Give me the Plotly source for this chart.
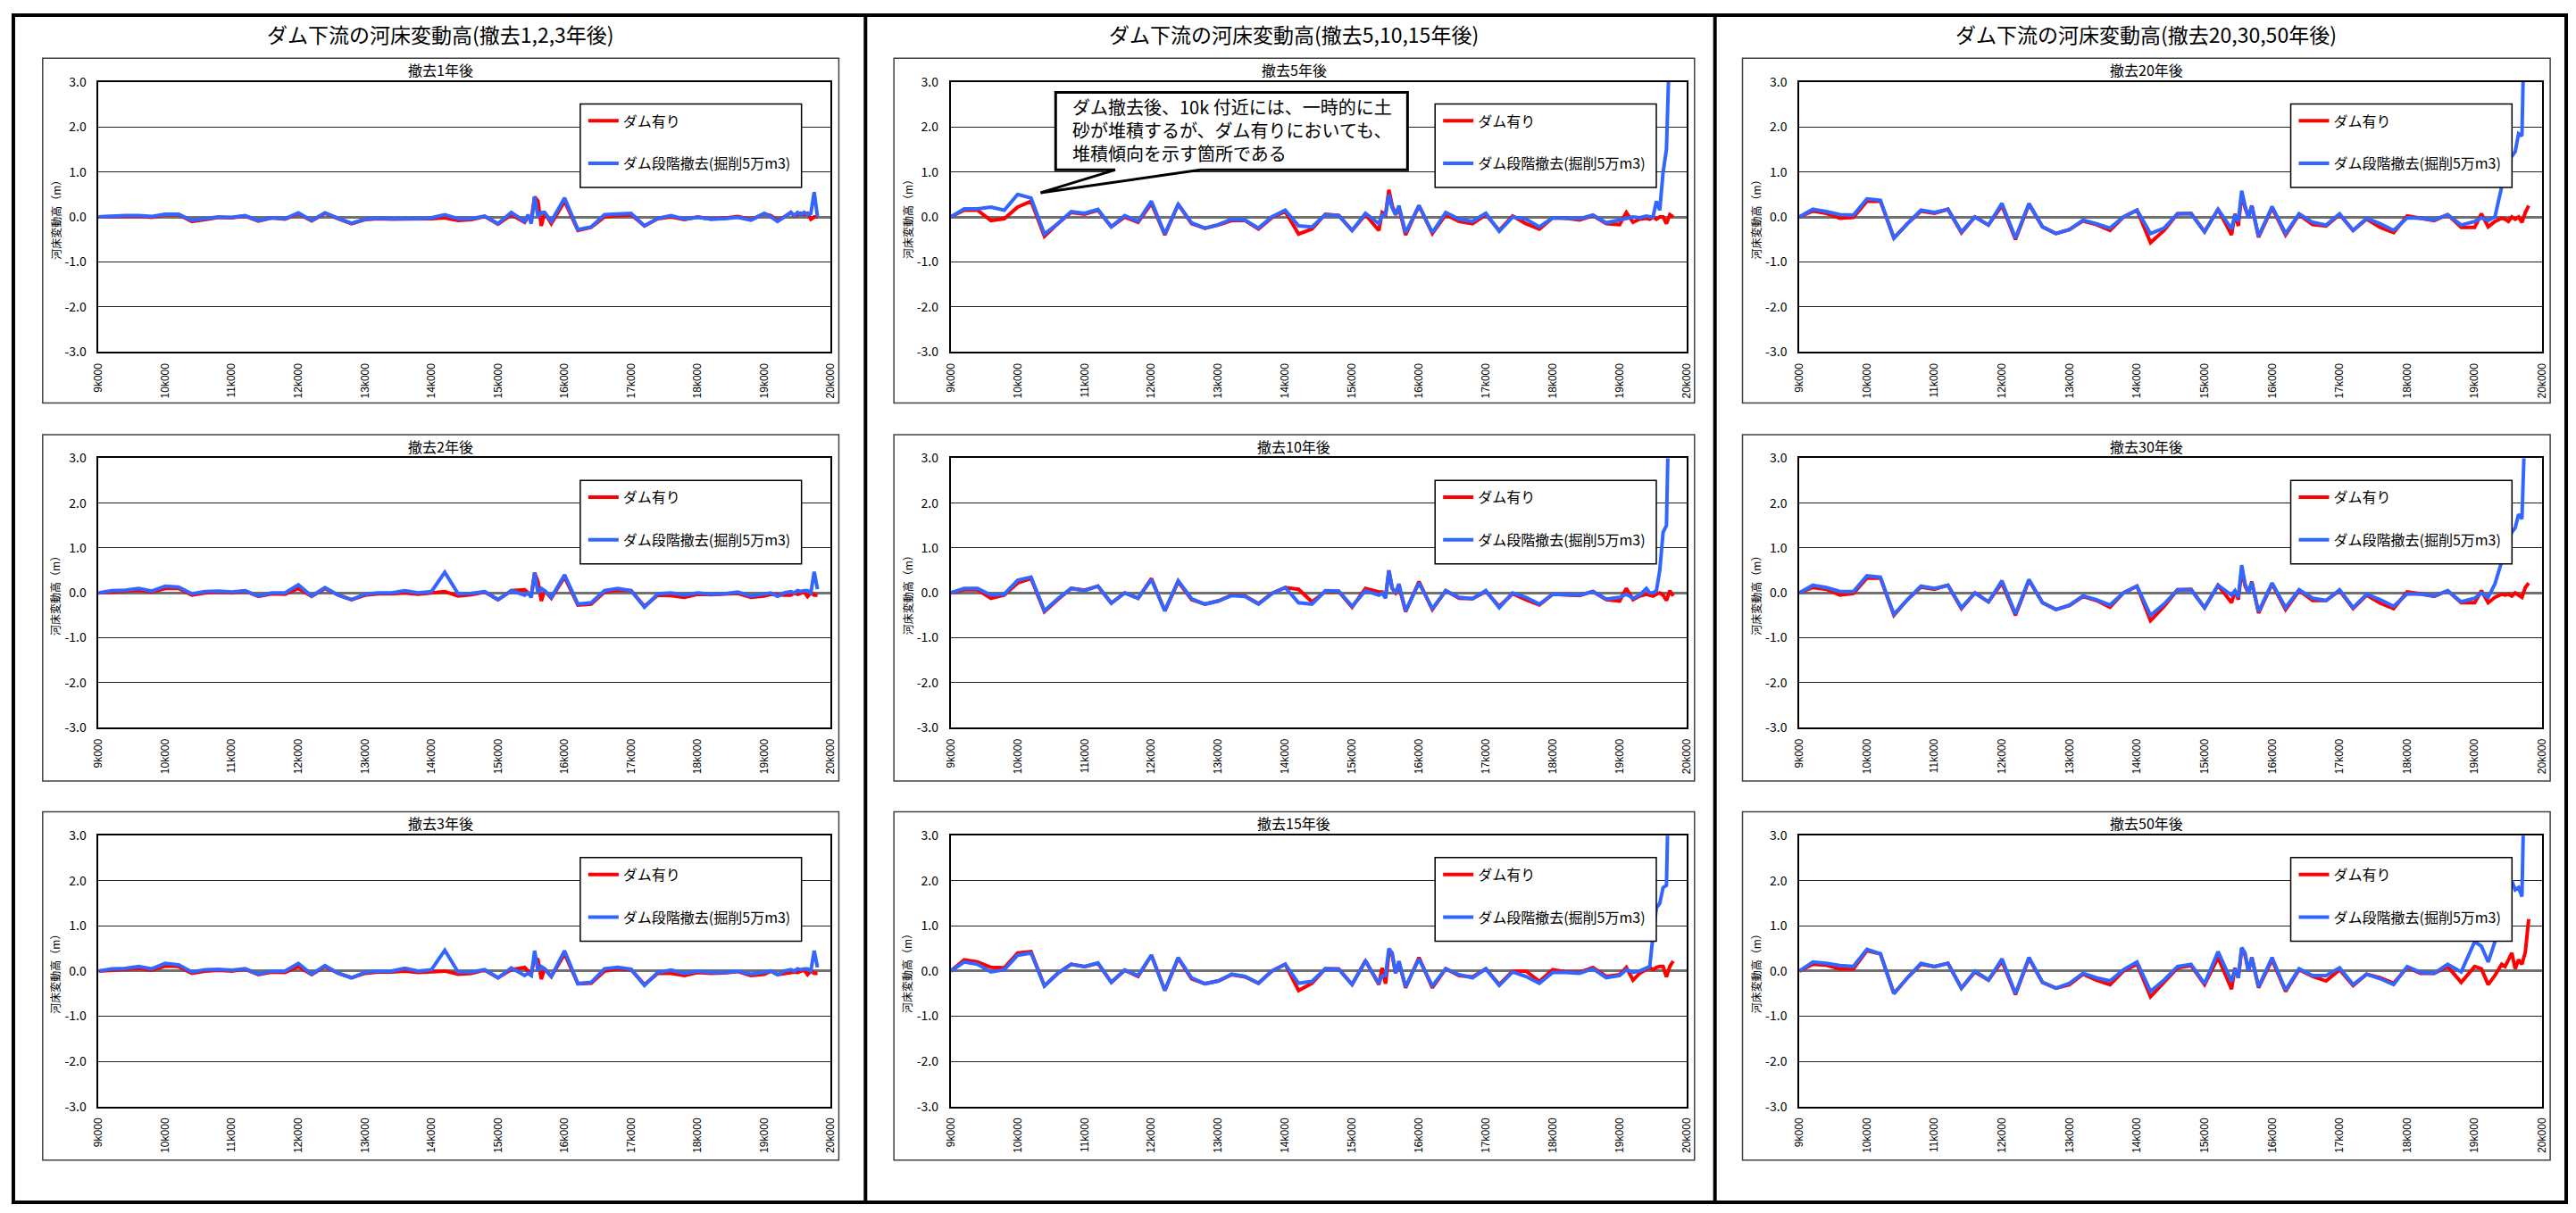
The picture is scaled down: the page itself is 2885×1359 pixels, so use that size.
import plotly.graph_objects as go

W, H = 2885, 1359

# ---------------- data ----------------
X_KM = [9.0, 9.2, 9.4, 9.6, 9.8, 10.0, 10.2, 10.4, 10.6, 10.8,
        11.0, 11.2, 11.4, 11.6, 11.8, 12.0, 12.2, 12.4, 12.6, 12.8,
        13.0, 13.2, 13.4, 13.6, 13.8, 14.0, 14.2, 14.4, 14.6, 14.8,
        15.0, 15.2, 15.4, 15.45, 15.5, 15.55, 15.6, 15.65, 15.7, 15.8,
        16.0, 16.2, 16.4, 16.6, 16.8, 17.0, 17.2, 17.4, 17.6, 17.8,
        18.0, 18.2, 18.4, 18.6, 18.8, 19.0, 19.1, 19.2, 19.3, 19.4,
        19.45, 19.5, 19.55, 19.6, 19.65, 19.7, 19.75, 19.8]

X_TICKVALS = [9, 10, 11, 12, 13, 14, 15, 16, 17, 18, 19, 20]
X_TICKTEXT = ["9k000", "10k000", "11k000", "12k000", "13k000", "14k000",
              "15k000", "16k000", "17k000", "18k000", "19k000", "20k000"]
Y_TICKVALS = [-3, -2, -1, 0, 1, 2, 3]
Y_TICKTEXT = ["-3.0", "-2.0", "-1.0", "0.0", "1.0", "2.0", "3.0"]

SERIES_NAMES = ["ダム有り", "ダム段階撤去(掘削5万m3)"]
COLUMN_TITLES = ["ダム下流の河床変動高(撤去1,2,3年後)",
                 "ダム下流の河床変動高(撤去5,10,15年後)",
                 "ダム下流の河床変動高(撤去20,30,50年後)"]
PANEL_TITLES = ["撤去1年後", "撤去2年後", "撤去3年後",
                "撤去5年後", "撤去10年後", "撤去15年後",
                "撤去20年後", "撤去30年後", "撤去50年後"]
Y_TITLE = "河床変動高（m）"
CALLOUT_TEXT = ("ダム撤去後、10k 付近には、一時的に土<br>"
                "砂が堆積するが、ダム有りにおいても、<br>"
                "堆積傾向を示す箇所である")

Y1_RED = [0.00, 0.01, 0.02, 0.02, -0.01, 0.05, 0.05, -0.10, -0.06, -0.01,
          -0.02, 0.02, -0.09, -0.02, -0.05, 0.07, -0.09, 0.08, -0.04, -0.15,
          -0.06, -0.04, -0.05, -0.05, -0.05, -0.04, -0.02, -0.08, -0.06, 0.01,
          -0.16, 0.05, -0.12, 0.00, -0.05, 0.45, 0.35, -0.20, 0.10, -0.15,
          0.35, -0.30, -0.23, 0.00, 0.03, 0.05, -0.20, -0.04, 0.00, -0.06,
          0.00, -0.05, -0.03, 0.01, -0.06, 0.07, 0.03, -0.08, 0.00, 0.10,
          0.02, 0.05, 0.08, 0.05, 0.08, -0.05, 0.00, 0.00]
Y1_BLUE = [0.00, 0.02, 0.03, 0.03, 0.01, 0.06, 0.06, -0.08, -0.04, 0.00,
           -0.01, 0.03, -0.08, -0.02, -0.04, 0.09, -0.08, 0.09, -0.03, -0.14,
           -0.05, -0.03, -0.04, -0.04, -0.04, -0.02, 0.05, -0.04, -0.04, 0.02,
           -0.15, 0.10, -0.10, 0.05, -0.15, 0.45, 0.00, 0.10, 0.10, -0.10,
           0.42, -0.28, -0.22, 0.05, 0.07, 0.08, -0.20, -0.03, 0.03, -0.05,
           -0.01, -0.05, -0.04, -0.01, -0.07, 0.08, 0.00, -0.10, 0.00, 0.10,
           0.03, 0.10, 0.05, 0.10, 0.05, 0.08, 0.55, 0.00]

Y2_RED = [0.00, 0.02, 0.03, 0.06, 0.02, 0.10, 0.10, -0.05, 0.00, 0.02,
          0.00, 0.04, -0.08, -0.02, -0.03, 0.10, -0.08, 0.10, -0.05, -0.15,
          -0.05, -0.02, -0.02, 0.00, -0.03, -0.01, 0.03, -0.07, -0.04, 0.02,
          -0.15, 0.05, 0.07, 0.00, -0.05, 0.45, 0.25, -0.18, 0.05, -0.12,
          0.35, -0.27, -0.25, 0.02, 0.06, 0.05, -0.30, -0.05, -0.06, -0.10,
          -0.03, -0.04, -0.03, -0.01, -0.10, -0.07, -0.03, -0.05, -0.05, -0.05,
          0.00, -0.03, 0.00, 0.02, -0.08, 0.00, -0.05, -0.05]
Y2_BLUE = [0.00, 0.05, 0.06, 0.10, 0.04, 0.15, 0.13, -0.02, 0.03, 0.04,
           0.02, 0.05, -0.07, 0.00, 0.00, 0.18, -0.07, 0.12, -0.05, -0.15,
           -0.03, 0.00, 0.00, 0.05, 0.00, 0.03, 0.46, -0.02, -0.01, 0.03,
           -0.15, 0.05, -0.05, 0.00, -0.10, 0.45, 0.00, 0.10, 0.05, -0.10,
           0.40, -0.25, -0.22, 0.05, 0.10, 0.05, -0.32, -0.02, 0.00, -0.05,
           0.00, -0.03, -0.02, 0.02, -0.07, -0.03, 0.00, -0.08, 0.00, 0.03,
           0.00, 0.05, 0.03, 0.05, 0.05, 0.00, 0.47, 0.08]

Y3_RED = [0.00, 0.02, 0.03, 0.06, 0.02, 0.11, 0.10, -0.05, 0.00, 0.02,
          0.00, 0.04, -0.08, -0.02, -0.03, 0.10, -0.08, 0.10, -0.05, -0.15,
          -0.05, -0.02, -0.02, 0.00, -0.03, -0.02, 0.00, -0.07, -0.05, 0.02,
          -0.15, 0.03, 0.08, 0.00, -0.05, 0.30, 0.25, -0.18, 0.05, -0.12,
          0.38, -0.28, -0.27, 0.00, 0.05, 0.03, -0.30, -0.05, -0.05, -0.10,
          -0.03, -0.05, -0.04, -0.01, -0.10, -0.07, 0.00, -0.08, -0.05, -0.04,
          -0.02, -0.03, 0.00, 0.02, -0.08, 0.00, -0.05, -0.05]
Y3_BLUE = [0.00, 0.05, 0.06, 0.10, 0.05, 0.17, 0.14, -0.02, 0.03, 0.04,
           0.02, 0.05, -0.07, 0.00, 0.00, 0.17, -0.07, 0.12, -0.05, -0.15,
           -0.03, 0.00, 0.00, 0.06, 0.00, 0.03, 0.46, -0.02, -0.02, 0.03,
           -0.15, 0.07, -0.10, -0.05, -0.10, 0.45, 0.00, 0.10, 0.05, -0.12,
           0.45, -0.28, -0.25, 0.05, 0.08, 0.04, -0.32, -0.03, 0.02, -0.05,
           0.00, -0.03, -0.03, 0.00, -0.07, -0.03, 0.00, -0.08, 0.00, 0.03,
           0.00, 0.05, 0.03, 0.05, 0.05, 0.00, 0.45, 0.08]

Y5_RED = [0.00, 0.15, 0.15, -0.08, -0.04, 0.22, 0.35, -0.43, -0.15, 0.10,
          0.06, 0.15, -0.22, 0.00, -0.12, 0.30, -0.40, 0.28, -0.15, -0.25,
          -0.18, -0.08, -0.08, -0.27, -0.02, 0.12, -0.38, -0.27, 0.06, 0.03,
          -0.30, 0.05, -0.30, 0.10, 0.05, 0.60, 0.25, 0.05, 0.20, -0.40,
          0.25, -0.37, 0.05, -0.10, -0.15, 0.05, -0.30, 0.02, -0.15, -0.27,
          -0.02, -0.03, -0.07, 0.03, -0.15, -0.17, 0.10, -0.12, -0.05, -0.03,
          -0.05, 0.00, -0.05, 0.00, 0.00, -0.15, 0.05, 0.00]
Y5_BLUE = [0.00, 0.18, 0.18, 0.22, 0.15, 0.50, 0.42, -0.38, -0.15, 0.12,
           0.08, 0.17, -0.22, 0.03, -0.10, 0.35, -0.38, 0.28, -0.13, -0.25,
           -0.17, -0.05, -0.07, -0.25, 0.00, 0.15, -0.20, -0.22, 0.05, 0.03,
           -0.30, 0.08, -0.15, 0.05, 0.05, 0.50, 0.20, 0.05, 0.25, -0.35,
           0.25, -0.35, 0.10, -0.05, -0.10, 0.08, -0.32, 0.00, -0.05, -0.22,
           -0.02, -0.03, -0.04, 0.04, -0.13, -0.07, -0.03, 0.00, -0.02, 0.02,
           0.00, 0.00, 0.35, 0.15, 1.00, 1.50, 4.00, 8.00]

Y10_RED = [0.00, 0.07, 0.07, -0.12, -0.05, 0.22, 0.32, -0.42, -0.15, 0.10,
           0.06, 0.15, -0.23, 0.00, -0.12, 0.32, -0.40, 0.25, -0.15, -0.25,
           -0.18, -0.05, -0.07, -0.24, -0.01, 0.12, 0.08, -0.20, 0.03, 0.03,
           -0.32, 0.10, 0.02, 0.02, -0.10, 0.50, 0.10, 0.00, 0.15, -0.42,
           0.25, -0.37, 0.05, -0.12, -0.13, 0.03, -0.30, -0.02, -0.15, -0.27,
           -0.03, -0.04, -0.06, 0.03, -0.15, -0.18, 0.10, -0.15, -0.07, -0.03,
           -0.05, -0.07, -0.03, 0.00, -0.05, -0.17, 0.05, -0.07]
Y10_BLUE = [0.00, 0.10, 0.10, -0.05, -0.03, 0.28, 0.35, -0.40, -0.13, 0.10,
            0.05, 0.15, -0.23, 0.00, -0.12, 0.30, -0.40, 0.27, -0.13, -0.25,
            -0.18, -0.06, -0.08, -0.25, -0.02, 0.12, -0.22, -0.25, 0.05, 0.04,
            -0.30, 0.05, -0.05, 0.00, -0.12, 0.50, 0.10, 0.00, 0.20, -0.40,
            0.22, -0.35, 0.05, -0.10, -0.13, 0.05, -0.33, 0.00, -0.10, -0.25,
            -0.03, -0.03, -0.05, 0.03, -0.14, -0.10, -0.03, -0.12, -0.05, 0.10,
            0.00, 0.00, 0.05, 0.50, 1.35, 1.50, 4.50, 9.00]

Y15_RED = [0.00, 0.25, 0.20, 0.08, 0.07, 0.40, 0.43, -0.33, -0.05, 0.15,
           0.10, 0.17, -0.25, 0.02, -0.12, 0.35, -0.43, 0.28, -0.17, -0.28,
           -0.22, -0.08, -0.13, -0.27, 0.00, 0.15, -0.43, -0.27, 0.05, 0.05,
           -0.30, 0.23, -0.30, 0.07, -0.28, 0.40, 0.35, -0.05, 0.20, -0.37,
           0.30, -0.37, 0.05, -0.10, -0.13, 0.05, -0.30, 0.00, 0.00, -0.23,
           0.03, -0.02, -0.03, 0.08, -0.12, -0.08, 0.08, -0.20, -0.05, 0.05,
           0.08, 0.03, 0.08, 0.10, 0.10, -0.13, 0.10, 0.22]
Y15_BLUE = [0.00, 0.20, 0.15, -0.02, 0.03, 0.35, 0.40, -0.33, -0.05, 0.15,
            0.10, 0.18, -0.25, 0.02, -0.10, 0.35, -0.43, 0.30, -0.15, -0.28,
            -0.22, -0.07, -0.12, -0.27, 0.00, 0.15, -0.27, -0.23, 0.05, 0.04,
            -0.30, 0.22, -0.28, -0.10, -0.10, 0.50, 0.40, -0.05, 0.22, -0.35,
            0.27, -0.33, 0.05, -0.08, -0.15, 0.05, -0.32, -0.02, -0.12, -0.27,
            -0.03, -0.03, -0.05, 0.05, -0.15, -0.10, 0.03, -0.03, 0.00, 0.08,
            0.10, 0.80, 1.40, 1.50, 1.85, 1.90, 4.00, 9.00]

Y20_RED = [0.00, 0.13, 0.08, -0.03, -0.01, 0.35, 0.35, -0.47, -0.15, 0.13,
           0.08, 0.17, -0.35, 0.00, -0.18, 0.25, -0.50, 0.28, -0.22, -0.37,
           -0.28, -0.09, -0.17, -0.30, 0.00, 0.15, -0.57, -0.30, 0.07, 0.08,
           -0.33, 0.17, -0.40, 0.07, -0.20, 0.50, 0.20, 0.00, 0.25, -0.45,
           0.20, -0.40, 0.05, -0.17, -0.20, 0.05, -0.30, -0.05, -0.23, -0.35,
           0.02, -0.02, -0.08, 0.05, -0.23, -0.23, 0.07, -0.22, -0.10, -0.03,
           -0.05, -0.10, 0.00, -0.05, 0.00, -0.12, 0.10, 0.25]
Y20_BLUE = [0.00, 0.17, 0.12, 0.05, 0.04, 0.40, 0.37, -0.47, -0.15, 0.15,
            0.10, 0.17, -0.33, 0.00, -0.18, 0.30, -0.47, 0.30, -0.22, -0.37,
            -0.28, -0.07, -0.15, -0.25, 0.00, 0.15, -0.37, -0.25, 0.07, 0.07,
            -0.33, 0.17, -0.27, 0.05, -0.10, 0.58, 0.25, -0.03, 0.25, -0.43,
            0.23, -0.37, 0.07, -0.12, -0.18, 0.07, -0.30, -0.03, -0.15, -0.30,
            -0.02, -0.03, -0.07, 0.05, -0.18, -0.10, -0.02, -0.08, 0.00, 0.70,
            1.00, 1.20, 1.35, 1.45, 1.85, 1.80, 4.00, 9.00]

Y30_RED = [0.00, 0.12, 0.08, -0.05, -0.01, 0.33, 0.33, -0.50, -0.15, 0.13,
           0.08, 0.17, -0.35, 0.00, -0.20, 0.22, -0.50, 0.28, -0.22, -0.37,
           -0.28, -0.08, -0.17, -0.32, 0.00, 0.15, -0.62, -0.30, 0.07, 0.08,
           -0.33, 0.17, -0.22, 0.05, -0.15, 0.50, 0.15, 0.00, 0.25, -0.45,
           0.20, -0.37, 0.05, -0.17, -0.17, 0.05, -0.35, -0.05, -0.23, -0.35,
           0.02, -0.02, -0.08, 0.05, -0.22, -0.22, 0.05, -0.22, -0.10, -0.03,
           -0.05, -0.03, -0.07, 0.00, -0.05, -0.10, 0.12, 0.22]
Y30_BLUE = [0.00, 0.17, 0.12, 0.03, 0.03, 0.38, 0.35, -0.48, -0.15, 0.15,
            0.10, 0.17, -0.33, 0.00, -0.20, 0.27, -0.47, 0.30, -0.22, -0.37,
            -0.27, -0.07, -0.15, -0.27, 0.00, 0.15, -0.50, -0.25, 0.07, 0.07,
            -0.33, 0.17, -0.05, 0.05, -0.10, 0.62, 0.20, 0.00, 0.23, -0.42,
            0.22, -0.33, 0.07, -0.12, -0.17, 0.07, -0.33, -0.03, -0.15, -0.30,
            -0.02, -0.03, -0.07, 0.05, -0.20, -0.12, 0.00, -0.10, 0.20, 0.70,
            1.00, 1.20, 1.35, 1.45, 1.75, 1.65, 4.00, 9.00]

Y50_RED = [0.00, 0.15, 0.13, 0.05, 0.05, 0.45, 0.38, -0.50, -0.15, 0.15,
           0.10, 0.17, -0.38, -0.02, -0.20, 0.22, -0.52, 0.28, -0.25, -0.38,
           -0.30, -0.07, -0.20, -0.30, 0.00, 0.15, -0.57, -0.25, 0.07, 0.12,
           -0.30, 0.30, -0.40, 0.07, -0.15, 0.50, 0.35, 0.00, 0.30, -0.37,
           0.25, -0.45, 0.03, -0.12, -0.22, 0.03, -0.32, -0.07, -0.15, -0.27,
           0.08, -0.05, -0.05, 0.10, -0.25, 0.10, 0.05, -0.30, -0.10, 0.15,
           0.10, 0.25, 0.40, 0.05, 0.25, 0.15, 0.42, 1.15]
Y50_BLUE = [0.00, 0.20, 0.17, 0.12, 0.10, 0.48, 0.38, -0.50, -0.15, 0.17,
            0.10, 0.17, -0.38, 0.00, -0.20, 0.27, -0.50, 0.30, -0.25, -0.38,
            -0.27, -0.05, -0.15, -0.22, 0.03, 0.20, -0.45, -0.20, 0.10, 0.15,
            -0.28, 0.43, -0.23, 0.05, -0.15, 0.52, 0.40, 0.00, 0.30, -0.35,
            0.30, -0.42, 0.05, -0.10, -0.10, 0.07, -0.30, -0.07, -0.17, -0.30,
            0.10, -0.03, -0.05, 0.15, -0.02, 0.65, 0.55, 0.20, 0.65, 1.10,
            1.40, 1.70, 2.00, 1.80, 1.85, 1.65, 4.50, 9.00]

PANEL_DATA = [(Y1_RED, Y1_BLUE), (Y2_RED, Y2_BLUE), (Y3_RED, Y3_BLUE),
              (Y5_RED, Y5_BLUE), (Y10_RED, Y10_BLUE), (Y15_RED, Y15_BLUE),
              (Y20_RED, Y20_BLUE), (Y30_RED, Y30_BLUE), (Y50_RED, Y50_BLUE)]

# ---------------- layout geometry (pixels) ----------------
PLOT_X = [(104, 928), (1063, 1891), (2018, 2854)]
PLOT_Y = [(82, 389), (510, 816), (939, 1247)]
FRAME_X = [(41, 937), (999, 1900), (1954, 2863)]
FRAME_Y = [(55, 447), (483, 877), (912, 1308)]
LEG_LEFT = [646, 1608, 2571]
LEG_W, LEG_H = 249, 95

RED = "#FF0000"
BLUE = "#3366FF"
JP = "Noto Sans CJK JP"


def fx(px):
    return px / W


def fy(py):
    return 1 - py / H


fig = go.Figure()
layout = dict(
    width=W, height=H, margin=dict(l=0, r=0, t=0, b=0),
    paper_bgcolor="white", plot_bgcolor="white", showlegend=True,
    font=dict(family=JP, color="black"),
)
shapes = []
annotations = []

for i in range(9):
    col, row = i // 3, i % 3
    n = i + 1
    xa = "x" if n == 1 else f"x{n}"
    ya = "y" if n == 1 else f"y{n}"
    leg = "legend" if n == 1 else f"legend{n}"
    red, blue = PANEL_DATA[i]
    assert len(red) == len(X_KM) and len(blue) == len(X_KM)

    fig.add_trace(go.Scatter(x=X_KM, y=red, mode="lines", name=SERIES_NAMES[0],
                             line=dict(color=RED, width=4), xaxis=xa, yaxis=ya,
                             legend=leg, legendgroup=f"r{n}"))
    fig.add_trace(go.Scatter(x=X_KM, y=blue, mode="lines", name=SERIES_NAMES[1],
                             line=dict(color=BLUE, width=4), xaxis=xa, yaxis=ya,
                             legend=leg, legendgroup=f"b{n}"))

    px0, px1 = PLOT_X[col]
    py0, py1 = PLOT_Y[row]
    xkey = "xaxis" if n == 1 else f"xaxis{n}"
    ykey = "yaxis" if n == 1 else f"yaxis{n}"
    layout[xkey] = dict(
        domain=[fx(px0), fx(px1)], anchor=ya, range=[9, 20],
        tickmode="array", tickvals=X_TICKVALS, ticktext=X_TICKTEXT,
        tickangle=-90, showgrid=False, zeroline=False,
        showline=True, mirror=True, linecolor="black", linewidth=2,
        ticks="", ticklabelstandoff=6,
        tickfont=dict(family="Liberation Sans", size=12, color="black"),
    )
    layout[ykey] = dict(
        domain=[fy(py1), fy(py0)], anchor=xa, range=[-3, 3],
        tickmode="array", tickvals=Y_TICKVALS, ticktext=Y_TICKTEXT,
        showgrid=True, gridcolor="#222222", gridwidth=1,
        zeroline=True, zerolinecolor="#707070", zerolinewidth=2.5,
        showline=True, mirror=True, linecolor="black", linewidth=2,
        ticks="", ticklabelstandoff=9,
        tickfont=dict(family=JP, size=14, color="black"),
    )

    # panel frame
    fx0, fx1 = FRAME_X[col]
    fy0, fy1 = FRAME_Y[row]
    shapes.append(dict(type="rect", xref="paper", yref="paper", layer="below",
                       x0=fx(fx0), x1=fx(fx1), y0=fy(fy1), y1=fy(fy0),
                       line=dict(color="#404040", width=1.5)))
    # panel title
    annotations.append(dict(text=PANEL_TITLES[i], xref="paper", yref="paper",
                            x=fx((fx0 + fx1) / 2), y=fy(fy0 + 13),
                            xanchor="center", yanchor="middle", showarrow=False,
                            font=dict(family=JP, size=16, color="black")))
    # y-axis title
    annotations.append(dict(text=Y_TITLE, xref="paper", yref="paper",
                            x=fx(px0 - 49), y=fy((py0 + py1) / 2), textangle=-90,
                            xanchor="center", yanchor="middle", showarrow=False,
                            font=dict(family=JP, size=12, color="black")))
    # legend box + legend
    lx = LEG_LEFT[col]
    ly = py0 + 25
    shapes.append(dict(type="rect", xref="paper", yref="paper", layer="above",
                       x0=fx(lx), x1=fx(lx + LEG_W), y0=fy(ly + LEG_H), y1=fy(ly),
                       fillcolor="white", line=dict(color="black", width=1.5)))
    layout[leg] = dict(x=fx(lx + 4), y=fy(ly + 2), xanchor="left", yanchor="top",
                       bgcolor="rgba(0,0,0,0)", borderwidth=0,
                       font=dict(family=JP, size=16, color="black"),
                       tracegroupgap=24, itemwidth=34)

# column titles
for c in range(3):
    fx0, fx1 = FRAME_X[c]
    annotations.append(dict(text=COLUMN_TITLES[c], xref="paper", yref="paper",
                            x=fx((fx0 + fx1) / 2), y=fy(27),
                            xanchor="center", yanchor="middle", showarrow=False,
                            font=dict(family=JP, size=23, color="black")))

# outer border and column dividers
shapes.append(dict(type="rect", xref="paper", yref="paper", layer="above",
                   x0=fx(8), x1=fx(2881), y0=fy(1356), y1=fy(6),
                   line=dict(color="black", width=4)))
for dx in (967, 1923):
    shapes.append(dict(type="line", xref="paper", yref="paper", layer="above",
                       x0=fx(dx), x1=fx(dx), y0=fy(1356), y1=fy(6),
                       line=dict(color="black", width=4)))

# callout in panel 撤去5年後
bx0, bx1, by0, by1 = 1181, 1577, 94, 182
pts = [(bx0, by0), (bx1, by0), (bx1, by1), (1344, by1), (1164, 208),
       (1248, by1), (bx0, by1)]
path = "M " + " L ".join(f"{fx(a):.6f},{fy(b):.6f}" for a, b in pts) + " Z"
shapes.append(dict(type="path", xref="paper", yref="paper", layer="above",
                   path=path, fillcolor="white", line=dict(color="black", width=3)))
annotations.append(dict(text=CALLOUT_TEXT, xref="paper", yref="paper",
                        x=fx(1198), y=fy(137), xanchor="left", yanchor="middle",
                        align="left", showarrow=False,
                        font=dict(family=JP, size=20, color="black")))

layout["shapes"] = shapes
layout["annotations"] = annotations
fig.update_layout(**layout)

fig.write_html("out.html", config={"displayModeBar": False},
               post_script="document.body.style.margin='0';document.body.style.overflow='hidden';")
